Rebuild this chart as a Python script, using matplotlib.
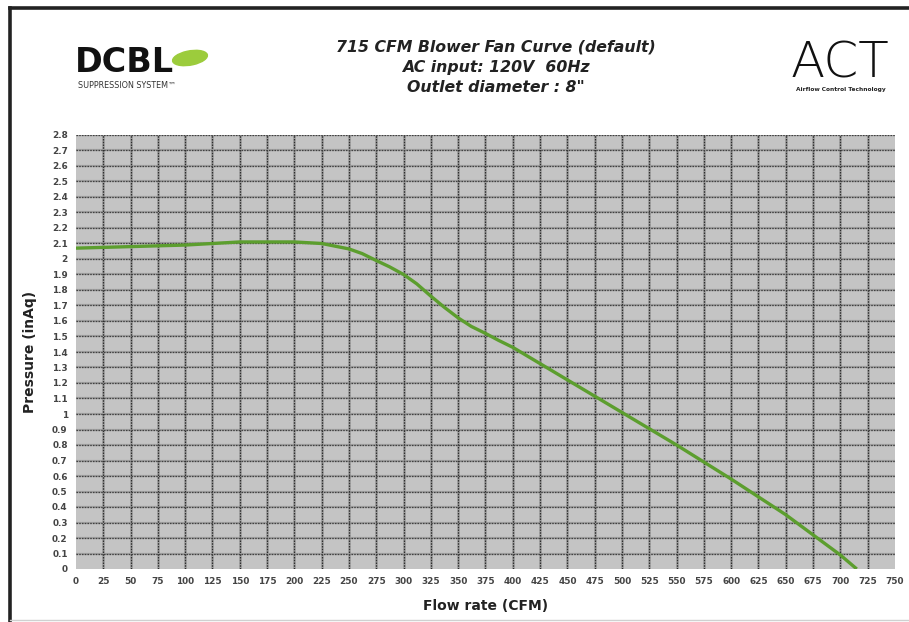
import matplotlib
matplotlib.use("Agg")
import matplotlib.pyplot as plt
from matplotlib.lines import Line2D
from matplotlib.patches import Ellipse
import numpy as np

# Data
flow_cfm = [0, 50, 100, 150, 200, 225, 250, 262, 275, 287, 300, 312, 325, 337,
            350, 362, 375, 387, 400, 450, 500, 550, 600, 650, 700, 715]
pressure_inaq = [2.07, 2.08, 2.09, 2.11, 2.11, 2.10, 2.065, 2.035, 1.99, 1.95,
                 1.90, 1.84, 1.76, 1.69, 1.62, 1.565, 1.52, 1.475, 1.43,
                 1.22, 1.01, 0.80, 0.58, 0.35, 0.09, 0.0]

x_ticks = list(range(0, 751, 25))
y_ticks = [round(0.1 * i, 1) for i in range(0, 29)]
y_tick_labels = [("%g" % v) for v in y_ticks]

title_lines = ["715 CFM Blower Fan Curve (default)",
               "AC input: 120V  60Hz",
               'Outlet diameter : 8"']

W, H = 909, 622
fig = plt.figure(figsize=(W / 100, H / 100), dpi=100)
fig.patch.set_facecolor("white")

# outer frame
fig.add_artist(Line2D([10 / W, 1.0], [1 - 8 / H, 1 - 8 / H], color="#222222", lw=2.6,
                      transform=fig.transFigure))
fig.add_artist(Line2D([10 / W, 10 / W], [1 - 8 / H, 0], color="#222222", lw=2.6,
                      transform=fig.transFigure))
fig.add_artist(Line2D([10 / W, 1.0], [2 / H, 2 / H], color="#d0d0d0", lw=1.0,
                      transform=fig.transFigure))

ax = fig.add_axes([76 / W, 53 / H, (895 - 76) / W, (569 - 135) / H])
ax.set_facecolor("#c4c4c4")
ax.set_xlim(0, 750)
ax.set_ylim(0, 2.8)
ax.set_xticks(x_ticks)
ax.set_yticks(y_ticks)
ax.set_xticklabels([str(v) for v in x_ticks])
ax.set_yticklabels(y_tick_labels)
for s in ax.spines.values():
    s.set_visible(False)
ax.tick_params(length=0, labelsize=6.4, colors="#444444", pad=6)
for lab in ax.get_xticklabels() + ax.get_yticklabels():
    lab.set_fontweight("bold")

# grid
for xv in x_ticks[1:-1]:
    ax.axvline(xv, color="#9a9a9a", lw=1.8, zorder=1)
    ax.axvline(xv, color="#2e2e2e", lw=0.9, ls=(0, (1.2, 1.0)), zorder=1.1)
for yv in y_ticks[1:]:
    ax.axhline(yv, color="#a0a0a0", lw=1.6, zorder=1)
    ax.axhline(yv, color="#404040", lw=0.9, ls=(0, (1.2, 1.0)), zorder=1.1)

ax.plot(flow_cfm, pressure_inaq, color="#5c9e2e", lw=2.4, zorder=3,
        solid_capstyle="butt", solid_joinstyle="round")

ax.set_xlabel("Flow rate (CFM)", fontsize=10, fontweight="bold", color="#222222",
              labelpad=9)
ax.set_ylabel("Pressure (inAq)", fontsize=10, fontweight="bold", color="#222222",
              labelpad=11)

# title
for i, t in enumerate(title_lines):
    fig.text(496 / W, 1 - (47 + i * 20.5) / H, t, ha="center", va="center",
             fontsize=11.3, fontweight="bold", style="italic", color="#222222",
             family="DejaVu Sans")

# left logo
fig.text(75 / W, 1 - 63 / H, "DCBL", ha="left", va="center", fontsize=24,
         fontweight="bold", color="#111111", family="DejaVu Sans")
fig.add_artist(Ellipse((190 / W, 1 - 58 / H), 36 / W, 14 / H, angle=18,
                       color="#9ccc3c", transform=fig.transFigure))
fig.text(78 / W, 1 - 85 / H, "SUPPRESSION SYSTEM\u2122", ha="left", va="center",
         fontsize=5.8, color="#333333", family="DejaVu Sans")

# right logo
fig.text(840 / W, 1 - 63 / H, "ACT", ha="center", va="center", fontsize=36,
         fontweight="light", color="#111111", family="DejaVu Sans")
fig.text(841 / W, 1 - 89 / H, "Airflow Control Technology", ha="center", va="center",
         fontsize=4.2, fontweight="bold", color="#222222")

fig.savefig("out.png", dpi=100, facecolor="white")
